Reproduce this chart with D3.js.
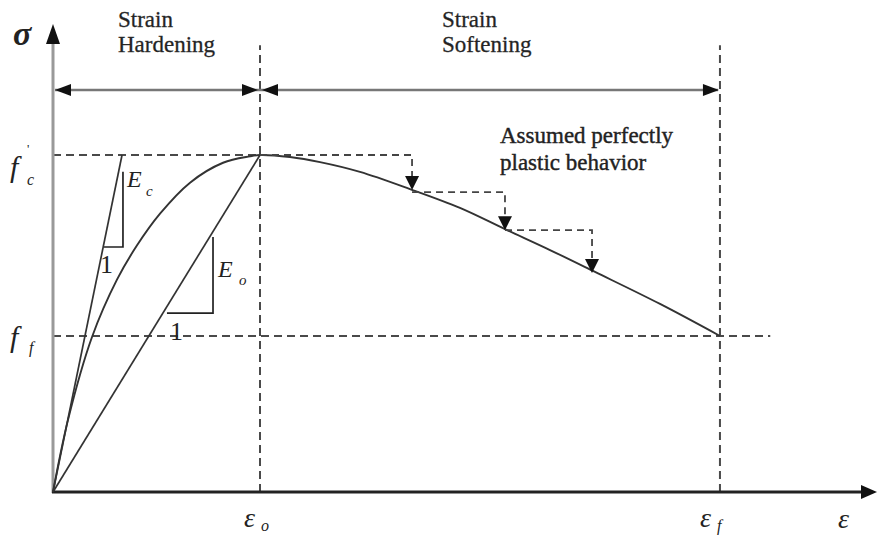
<!DOCTYPE html>
<html><head><meta charset="utf-8">
<script src="https://cdn.jsdelivr.net/npm/d3@7"></script>
<style>body{margin:0;background:#fff}svg{display:block}text{font-family:"Liberation Serif","Times New Roman",serif;fill:#222}</style>
</head><body><svg id="c" width="877" height="537"></svg>
<script>
// Stress-strain curve (strain in units of 1e-3, stress normalized by f'c)
const strain = [0, 0.145, 0.377, 0.618, 0.812, 1.034, 1.324, 1.643, 1.903, 2.0, 2.29, 2.58, 2.966, 3.449, 3.932, 4.367, 4.802, 5.237, 5.865, 6.444];
const stress = [0, 0.214, 0.46, 0.63, 0.732, 0.826, 0.918, 0.977, 0.996, 1.0, 0.994, 0.979, 0.95, 0.899, 0.843, 0.78, 0.718, 0.653, 0.558, 0.463];
const peak = [2.0, 1.0];            // eps_o, f'c
const fail = [6.444, 0.463];        // eps_f, f_f
const tangentReach = 0.667;         // strain where Ec tangent reaches f'c
// slope triangles [x0, x1, yLow, yHigh]
const triEc = [0.493, 0.676, 0.727, 0.95];
const triEo = [1.101, 1.546, 0.531, 0.757];
// perfectly-plastic steps
const stepStart = [2.0, 3.469, 4.367];
const stepEnd = [3.469, 4.367, 5.208];
const stepLevel = [1.0, 0.89, 0.777];
const stepDrop = [0.896, 0.777, 0.65];
const zoneLevel = 1.193;
const dashTop = 1.326;
const ffDashEnd = 6.93;

const svg = d3.select("#c");
svg.append("rect").attr("width",877).attr("height",537).attr("fill","#fff");
const x = d3.scaleLinear().domain([0, 2]).range([53, 260]);
const y = d3.scaleLinear().domain([0, 1]).range([492, 155]);

function head(g, tx, ty, dir, len, hw) {
  let p;
  if (dir === "left") p = [[tx,ty],[tx+len,ty-hw],[tx+len,ty+hw]];
  if (dir === "right") p = [[tx,ty],[tx-len,ty-hw],[tx-len,ty+hw]];
  if (dir === "up") p = [[tx,ty],[tx-hw,ty+len],[tx+hw,ty+len]];
  if (dir === "down") p = [[tx,ty],[tx-hw,ty-len],[tx+hw,ty-len]];
  g.append("path").attr("d", "M" + p.map(d => d.join(",")).join("L") + "Z").attr("fill", "#111");
}

const dash = svg.append("g").attr("stroke", "#4a4a4a").attr("stroke-width", 2).attr("stroke-dasharray", "8,5").attr("fill","none");
// vertical dashed at eps_o, eps_f
[peak[0], fail[0]].forEach(v => dash.append("line").attr("x1", x(v)).attr("x2", x(v)).attr("y1", y(0)).attr("y2", y(dashTop)));
// horizontal dashed f'c and f_f
dash.append("line").attr("x1", x(0)).attr("x2", x(peak[0])).attr("y1", y(peak[1])).attr("y2", y(peak[1]));
dash.append("line").attr("x1", x(0)).attr("x2", x(ffDashEnd)).attr("y1", y(fail[1])).attr("y2", y(fail[1]));

// zone arrows
const zone = svg.append("g");
const zy = y(zoneLevel);
zone.append("line").attr("x1", x(0)+2).attr("x2", x(fail[0])-2).attr("y1", zy).attr("y2", zy).attr("stroke", "#777").attr("stroke-width", 2.5);
head(zone, x(0)+2, zy, "left", 16, 6);
head(zone, x(peak[0])-2, zy, "right", 16, 6);
head(zone, x(peak[0])+2, zy, "left", 16, 6);
head(zone, x(fail[0])-1, zy, "right", 16, 6);

// axes
svg.append("line").attr("x1", x(0)).attr("x2", x(0)).attr("y1", y(0)+1).attr("y2", 42).attr("stroke", "#999").attr("stroke-width", 3);
head(svg, x(0), 24, "up", 20, 7);
svg.append("line").attr("x1", x(0)-1).attr("x2", 862).attr("y1", y(0)).attr("y2", y(0)).attr("stroke", "#222").attr("stroke-width", 3);
head(svg, 877, y(0), "right", 16, 7);

// curve
const pts = strain.map((s, i) => [s, stress[i]]);
svg.append("path").datum(pts)
  .attr("d", d3.line().x(d => x(d[0])).y(d => y(d[1])).curve(d3.curveCatmullRom.alpha(0.5)))
  .attr("fill", "none").attr("stroke", "#333").attr("stroke-width", 1.9);
// tangent Ec and secant Eo
svg.append("line").attr("x1", x(0)).attr("y1", y(0)).attr("x2", x(tangentReach)).attr("y2", y(1)).attr("stroke", "#333").attr("stroke-width", 1.7);
svg.append("line").attr("x1", x(0)).attr("y1", y(0)).attr("x2", x(peak[0])).attr("y2", y(peak[1])).attr("stroke", "#333").attr("stroke-width", 1.7);
// slope triangles
[triEc, triEo].forEach(t => {
  svg.append("path").attr("d", `M${x(t[0])},${y(t[2])}L${x(t[1])},${y(t[2])}L${x(t[1])},${y(t[3])}`)
    .attr("fill", "none").attr("stroke", "#222").attr("stroke-width", 1.7);
});

// plastic steps
const st = svg.append("g");
stepStart.forEach((s, i) => {
  st.append("path").attr("d", `M${x(s)},${y(stepLevel[i])}L${x(stepEnd[i])},${y(stepLevel[i])}L${x(stepEnd[i])},${y(stepDrop[i]) - 10}`)
    .attr("fill", "none").attr("stroke", "#444").attr("stroke-width", 1.8).attr("stroke-dasharray", "7,5");
  head(st, x(stepEnd[i]), y(stepDrop[i]), "down", 14, 7);
});

// texts
function txt(tx, ty, s, size, opts = {}) {
  const t = svg.append("text").attr("x", tx).attr("y", ty).attr("font-size", size).text(s);
  if (opts.italic) t.attr("font-style", "italic");
  if (opts.weight) t.attr("font-weight", opts.weight);
  return t;
}
txt(118, 27, "Strain", 23).attr("stroke","#333").attr("stroke-width",0.3);
txt(118, 52, "Hardening", 23).attr("stroke","#333").attr("stroke-width",0.3);
txt(442, 27, "Strain", 23).attr("stroke","#333").attr("stroke-width",0.3);
txt(442, 52, "Softening", 23).attr("stroke","#333").attr("stroke-width",0.3);
txt(500, 143, "Assumed perfectly", 23).attr("stroke","#222").attr("stroke-width",0.4);
txt(500, 170, "plastic behavior", 23).attr("stroke","#222").attr("stroke-width",0.4);

txt(13, 45, "σ", 34, {italic: true, weight: "bold"});
// f'c
txt(10, 177, "f", 30, {italic: true});
txt(27, 185, "c", 16, {italic: true});
txt(27, 153, "'", 13);
// f_f
txt(10, 347, "f", 30, {italic: true});
txt(29, 353, "f", 16, {italic: true});
// E_c, E_o and 1s
txt(127, 187, "E", 24, {italic: true});
txt(146, 196, "c", 15, {italic: true});
txt(100, 273, "1", 26);
txt(218, 277, "E", 24, {italic: true});
txt(239, 285, "o", 15, {italic: true});
txt(170, 340, "1", 26);
// strain labels
txt(x(peak[0]) - 16, 527, "ε", 28, {italic: true});
txt(x(peak[0]) + 1, 531, "o", 16, {italic: true});
txt(x(fail[0]) - 20, 527, "ε", 28, {italic: true});
txt(x(fail[0]) - 3, 531, "f", 16, {italic: true});
txt(838, 528, "ε", 28, {italic: true});
</script></body></html>
